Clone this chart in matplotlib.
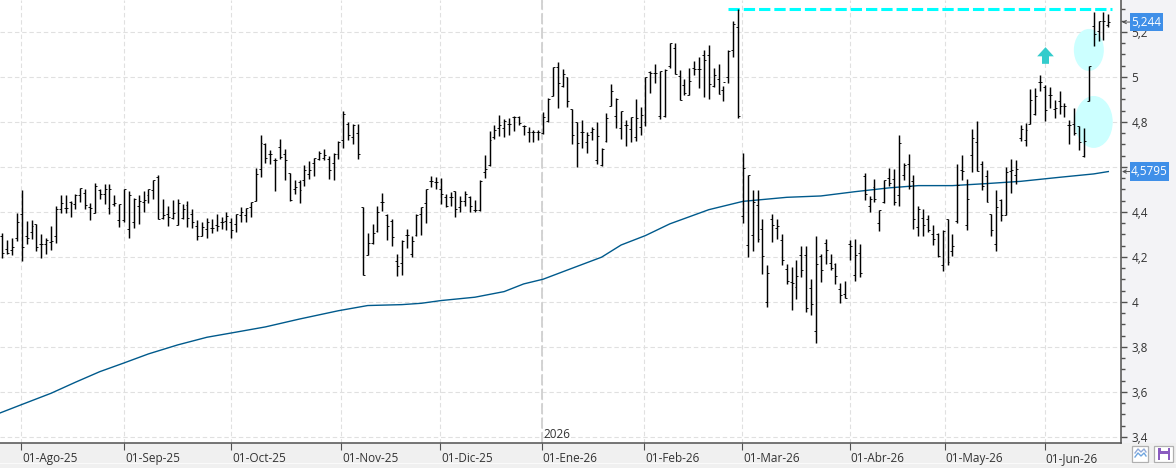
import matplotlib
matplotlib.use("Agg")
import matplotlib.pyplot as plt
from matplotlib.patches import Ellipse, Rectangle
from matplotlib.ticker import FixedLocator, FuncFormatter, MultipleLocator
from matplotlib.transforms import ScaledTranslation

plt.rcParams['font.family'] = ['Open Sans', 'DejaVu Sans']

# OHLC por sesion
highs = [4.308, 4.277, 4.286, 4.396, 4.496, 4.359, 4.363, 4.345, 4.304, 4.284, 4.336, 4.425, 4.474, 4.474, 4.447, 4.479, 4.508, 4.504, 4.44, 4.53,
         4.504, 4.526, 4.526, 4.474, 4.437, 4.504, 4.493, 4.464, 4.474, 4.492, 4.504, 4.544, 4.563, 4.459, 4.425, 4.455, 4.459, 4.434, 4.449, 4.415,
         4.366, 4.356, 4.375, 4.37, 4.393, 4.378, 4.4, 4.375, 4.39, 4.422, 4.419, 4.444, 4.596, 4.741, 4.708, 4.674, 4.641, 4.723, 4.681, 4.575,
         4.541, 4.541, 4.61, 4.625, 4.641, 4.67, 4.679, 4.649, 4.662, 4.714, 4.847, 4.8, 4.79, 4.79, 4.421, 4.307, 4.347, 4.425, 4.484, 4.391,
         4.369, 4.213, 4.277, 4.324, 4.295, 4.391, 4.421, 4.502, 4.561, 4.554, 4.55, 4.48, 4.49, 4.495, 4.47, 4.495, 4.473, 4.455, 4.542, 4.655,
         4.759, 4.787, 4.833, 4.813, 4.818, 4.825, 4.828, 4.787, 4.779, 4.764, 4.764, 4.846, 4.905, 5.046, 5.068, 5.036, 5.001, 4.858, 4.799, 4.809,
         4.757, 4.776, 4.801, 4.684, 4.84, 4.969, 4.905, 4.85, 4.809, 4.824, 4.902, 4.865, 5.001, 5.025, 5.058, 5.028, 5.036, 5.153, 5.153, 5.033,
         4.993, 5.041, 5.07, 5.089, 5.121, 5.141, 5.04, 5.056, 4.96, 5.121, 5.247, 5.304, 4.664, 4.566, 4.496, 4.496, 4.37, 4.163, 4.393, 4.37,
         4.304, 4.17, 4.156, 4.188, 4.247, 4.247, 4.104, 4.293, 4.215, 4.281, 4.215, 4.173, 4.086, 4.092, 4.274, 4.281, 4.256, 4.575, 4.47, 4.545,
         4.41, 4.544, 4.597, 4.59, 4.741, 4.619, 4.656, 4.563, 4.425, 4.415, 4.385, 4.344, 4.308, 4.319, 4.37, 4.304, 4.612, 4.652, 4.545, 4.767,
         4.803, 4.625, 4.585, 4.393, 4.499, 4.459, 4.6, 4.637, 4.633, 4.785, 4.797, 4.947, 4.951, 5.01, 4.964, 4.957, 4.898, 4.939, 4.884, 4.809,
         4.862, 4.784, 4.773, 5.047, 5.29, 5.25, 5.29, 5.28]
lows = [4.196, 4.212, 4.207, 4.271, 4.182, 4.256, 4.279, 4.227, 4.196, 4.212, 4.23, 4.262, 4.396, 4.396, 4.378, 4.412, 4.444, 4.412, 4.363, 4.396,
        4.456, 4.434, 4.39, 4.427, 4.333, 4.356, 4.284, 4.329, 4.348, 4.4, 4.44, 4.459, 4.37, 4.37, 4.338, 4.37, 4.344, 4.37, 4.333, 4.33,
        4.277, 4.292, 4.284, 4.308, 4.314, 4.323, 4.319, 4.284, 4.311, 4.356, 4.356, 4.378, 4.447, 4.556, 4.619, 4.612, 4.493, 4.634, 4.541, 4.449,
        4.479, 4.44, 4.516, 4.545, 4.559, 4.63, 4.63, 4.545, 4.541, 4.634, 4.684, 4.719, 4.701, 4.634, 4.12, 4.209, 4.258, 4.313, 4.406, 4.277,
        4.25, 4.114, 4.12, 4.239, 4.199, 4.295, 4.299, 4.351, 4.51, 4.502, 4.436, 4.421, 4.428, 4.376, 4.401, 4.428, 4.401, 4.401, 4.406, 4.551,
        4.606, 4.724, 4.739, 4.735, 4.744, 4.759, 4.787, 4.742, 4.71, 4.71, 4.721, 4.747, 4.801, 4.914, 4.861, 4.954, 4.868, 4.702, 4.599, 4.684,
        4.661, 4.72, 4.613, 4.603, 4.71, 4.87, 4.772, 4.724, 4.695, 4.713, 4.717, 4.744, 4.784, 4.927, 4.972, 4.813, 4.821, 5.04, 5.015, 4.899,
        4.921, 4.921, 5.007, 4.951, 4.911, 4.901, 4.956, 4.923, 4.893, 4.975, 5.089, 4.819, 4.351, 4.2, 4.225, 4.267, 4.126, 3.978, 4.267, 4.281,
        4.166, 4.081, 3.966, 4.012, 4.111, 3.956, 3.944, 3.818, 4.089, 4.167, 4.141, 4.079, 3.996, 4.018, 4.185, 4.093, 4.111, 4.452, 4.4, 4.444,
        4.316, 4.44, 4.514, 4.43, 4.427, 4.541, 4.504, 4.323, 4.293, 4.293, 4.311, 4.255, 4.2, 4.136, 4.166, 4.203, 4.351, 4.541, 4.319, 4.578,
        4.581, 4.499, 4.444, 4.293, 4.225, 4.358, 4.385, 4.484, 4.526, 4.716, 4.693, 4.791, 4.831, 4.936, 4.803, 4.861, 4.818, 4.836, 4.821, 4.702,
        4.744, 4.677, 4.643, 4.895, 5.139, 5.159, 5.166, 5.221]
opens = [4.293, 4.237, 4.23, 4.286, 4.393, 4.293, 4.313, 4.345, 4.256, 4.256, 4.267, 4.295, 4.415, 4.419, 4.444, 4.437, 4.474, 4.486, 4.422, 4.396,
         4.496, 4.479, 4.419, 4.437, 4.366, 4.363, 4.326, 4.356, 4.425, 4.444, 4.474, 4.499, 4.556, 4.375, 4.39, 4.373, 4.344, 4.373, 4.433, 4.39,
         4.336, 4.293, 4.326, 4.33, 4.341, 4.356, 4.36, 4.356, 4.348, 4.385, 4.385, 4.422, 4.447, 4.593, 4.701, 4.659, 4.633, 4.689, 4.659, 4.575,
         4.504, 4.533, 4.541, 4.57, 4.619, 4.637, 4.64, 4.637, 4.618, 4.659, 4.721, 4.793, 4.733, 4.753, 4.421, 4.209, 4.262, 4.317, 4.443, 4.387,
         4.361, 4.184, 4.173, 4.299, 4.213, 4.299, 4.391, 4.44, 4.536, 4.532, 4.502, 4.468, 4.465, 4.492, 4.421, 4.447, 4.465, 4.409, 4.41, 4.576,
         4.61, 4.735, 4.772, 4.772, 4.791, 4.821, 4.821, 4.781, 4.757, 4.754, 4.754, 4.75, 4.806, 4.917, 5.043, 4.961, 5.001, 4.858, 4.799, 4.757,
         4.71, 4.754, 4.631, 4.609, 4.717, 4.87, 4.828, 4.772, 4.787, 4.769, 4.732, 4.779, 4.801, 5.024, 5.018, 4.825, 4.828, 5.049, 5.13, 5.003,
         4.966, 4.921, 5.04, 5.034, 5.099, 5.099, 4.959, 4.993, 4.941, 5.0, 5.119, 5.222, 4.384, 4.255, 4.299, 4.43, 4.323, 4.001, 4.37, 4.33,
         4.277, 4.148, 4.089, 4.067, 4.21, 4.21, 4.064, 3.87, 4.203, 4.264, 4.175, 4.167, 4.059, 4.037, 4.259, 4.121, 4.218, 4.56, 4.427, 4.511,
         4.353, 4.444, 4.551, 4.548, 4.474, 4.563, 4.615, 4.536, 4.333, 4.375, 4.37, 4.304, 4.304, 4.163, 4.37, 4.225, 4.36, 4.588, 4.341, 4.652,
         4.711, 4.615, 4.56, 4.393, 4.259, 4.455, 4.388, 4.582, 4.563, 4.729, 4.721, 4.791, 4.836, 4.979, 4.957, 4.92, 4.858, 4.895, 4.87, 4.787,
         4.791, 4.78, 4.65, 4.895, 5.228, 5.203, 5.25, 5.233]
closes = [4.219, 4.218, 4.244, 4.356, 4.244, 4.284, 4.336, 4.244, 4.259, 4.277, 4.271, 4.415, 4.441, 4.419, 4.44, 4.474, 4.508, 4.433, 4.418, 4.514,
          4.481, 4.501, 4.504, 4.441, 4.437, 4.504, 4.477, 4.456, 4.447, 4.452, 4.501, 4.541, 4.37, 4.385, 4.378, 4.396, 4.44, 4.415, 4.375, 4.356,
          4.293, 4.333, 4.356, 4.33, 4.336, 4.356, 4.381, 4.321, 4.39, 4.4, 4.419, 4.444, 4.57, 4.708, 4.641, 4.659, 4.633, 4.644, 4.633, 4.452,
          4.511, 4.496, 4.585, 4.585, 4.641, 4.662, 4.652, 4.585, 4.659, 4.711, 4.834, 4.744, 4.785, 4.659, 4.12, 4.262, 4.307, 4.399, 4.443, 4.336,
          4.287, 4.161, 4.27, 4.299, 4.273, 4.388, 4.421, 4.502, 4.536, 4.532, 4.48, 4.428, 4.465, 4.413, 4.45, 4.48, 4.428, 4.409, 4.536, 4.591,
          4.721, 4.764, 4.787, 4.803, 4.791, 4.821, 4.796, 4.781, 4.754, 4.754, 4.754, 4.821, 4.902, 5.043, 4.972, 5.013, 4.892, 4.744, 4.707, 4.757,
          4.744, 4.769, 4.736, 4.68, 4.818, 4.939, 4.902, 4.85, 4.787, 4.821, 4.818, 4.833, 5.001, 5.018, 5.018, 5.025, 5.033, 5.153, 5.015, 4.899,
          4.93, 4.981, 5.034, 5.034, 5.074, 4.97, 5.01, 4.926, 4.978, 5.114, 5.237, 4.827, 4.597, 4.566, 4.444, 4.281, 4.203, 4.13, 4.344, 4.338,
          4.188, 4.092, 4.086, 4.114, 4.144, 3.975, 3.99, 4.17, 4.144, 4.23, 4.153, 4.114, 4.03, 4.019, 4.247, 4.21, 4.13, 4.481, 4.459, 4.459,
          4.407, 4.541, 4.529, 4.444, 4.708, 4.607, 4.516, 4.37, 4.415, 4.341, 4.319, 4.279, 4.204, 4.314, 4.178, 4.247, 4.521, 4.581, 4.459, 4.73,
          4.581, 4.516, 4.444, 4.321, 4.422, 4.388, 4.578, 4.585, 4.593, 4.767, 4.766, 4.899, 4.914, 4.979, 4.855, 4.92, 4.861, 4.87, 4.87, 4.787,
          4.751, 4.71, 4.717, 5.047, 5.191, 5.247, 5.247, 5.244]

ma_idx = [-1, 4, 10, 15, 20, 25, 30, 36, 42, 47, 54, 61, 69, 75, 82, 86, 90, 97, 103, 107, 111, 116, 123, 127, 132, 137, 145, 152, 161,
          168, 175, 182, 188, 195, 202, 209, 217, 224, 227]
ma_vals = [3.502, 3.544, 3.594, 3.643, 3.69, 3.729, 3.769, 3.809, 3.843, 3.862, 3.889, 3.924, 3.961, 3.984, 3.988, 3.994, 4.006, 4.021,
           4.046, 4.08, 4.101, 4.142, 4.199, 4.253, 4.295, 4.347, 4.41, 4.447, 4.465, 4.471, 4.49, 4.507, 4.517, 4.517, 4.526, 4.536, 4.554,
           4.569, 4.5795]

months = ["01-Ago-25", "01-Sep-25", "01-Oct-25", "01-Nov-25", "01-Dic-25", "01-Ene-26",
          "01-Feb-26", "01-Mar-26", "01-Abr-26", "01-May-26", "01-Jun-26"]
month_idx = [3.92, 25.04, 47.0, 69.5, 89.9, 110.7, 131.8, 151.8, 173.9, 193.4, 213.9]
year_start = 110.7
resistance = 5.30


# coma decimal; el 4,6 queda tapado por la etiqueta de la media
def comma(v, pos=None):
    if abs(v - 4.6) < 0.001:
        return ""
    return f"{v:.1f}".replace(".", ",").replace(",0", "")


fig = plt.figure(figsize=(11.76, 4.68), dpi=100, facecolor="#f0f0f0")
ax = fig.add_axes([0, 25 / 468, 1121 / 1176, 443 / 468])
ax.set_xlim(-0.472, 229.6)
ax.set_ylim(3.373, 5.342)

dark = "#505050"
for s in ["top", "left"]:
    ax.spines[s].set_visible(False)
for s in ["right", "bottom"]:
    ax.spines[s].set_color(dark)
    ax.spines[s].set_linewidth(1.1)

# eje de precios
ax.yaxis.tick_right()
ax.yaxis.set_major_locator(MultipleLocator(0.2))
ax.yaxis.set_minor_locator(MultipleLocator(0.05))
ax.yaxis.set_major_formatter(FuncFormatter(comma))
ax.tick_params(axis="y", which="major", length=4.5, width=1, color=dark, pad=3, labelsize=8.5, labelcolor="#333333")
ax.tick_params(axis="y", which="minor", length=3, width=1, color=dark)

# eje de fechas, etiqueta a la derecha de cada marca
ax.xaxis.set_major_locator(FixedLocator(month_idx))
ax.set_xticklabels(months, ha="left")
ax.tick_params(axis="x", length=5, width=0.8, color=dark, pad=1.5, labelsize=8.5, labelcolor="#333333")
offset = ScaledTranslation(1 / 100, 0, fig.dpi_scale_trans)
for lab in ax.get_xticklabels():
    lab.set_transform(lab.get_transform() + offset)

ax.grid(True, which="major", color="#e0e0e0", lw=0.8, ls=(0, (4, 2.5)))
ax.set_axisbelow(True)
ax.axvline(year_start, color="#d0d0d0", lw=1.3, ls=(0, (6, 2)), zorder=1)
ax.text(year_start + 0.3, 3.412, "2026", fontsize=8.5, color="#333333", va="center", ha="left")

# zonas marcadas y resistencia
ax.add_patch(Ellipse((223, 5.12), 6.16, 0.187, fc="#ccffff", ec="none", zorder=1.5))
ax.add_patch(Ellipse((224, 4.8), 7.8, 0.231, fc="#ccffff", ec="none", zorder=1.5))
ax.plot([149, 227.8], [resistance, resistance], color="#00ffff", lw=2.2, ls=(0, (3.7, 1.3)), zorder=2)

ax.plot(ma_idx, ma_vals, color="#005a8c", lw=1.0, zorder=2.5)

# barras OHLC
idx = list(range(len(highs)))
ax.vlines(idx, lows, highs, color="black", lw=1.05, zorder=3)
ax.hlines(opens, [i - 0.4 for i in idx], idx, color="black", lw=0.65, zorder=3)
ax.hlines(closes, idx, [i + 0.4 for i in idx], color="black", lw=0.65, zorder=3)

# flecha de compra
arrow = [(0, 1), (1, -0.1), (0.42, -0.1), (0.42, -1), (-0.42, -1), (-0.42, -0.1), (-1, -0.1)]
ax.plot([213.9], [5.098], marker=arrow, ms=12, color="#33cccc", mec="none", zorder=4, clip_on=False)

# etiquetas de ultimo valor, caja ajustada al texto
tr = ax.get_yaxis_transform()
for val, txt, w in [(closes[-1], "5,244", 33), (ma_vals[-1], "4,5795", 38.7)]:
    ax.add_patch(Rectangle((1130 / 1121, val - 0.042), w / 1121, 0.084, transform=tr, fc="#3f8fe8", ec="none", zorder=5, clip_on=False))
    ax.text((1130 + w / 2) / 1121, val, txt, transform=tr, color="white", fontsize=8.5, va="center", ha="center", zorder=6, clip_on=False)
    ax.annotate("", xy=(1122 / 1121, val), xycoords=tr, xytext=(1130 / 1121, val), textcoords=tr,
                arrowprops=dict(arrowstyle="->", lw=0.7, color=dark, shrinkA=0, shrinkB=0, mutation_scale=6))

# marco de la ventana y botones, en pixeles, por debajo del grafico
ui = fig.add_axes([0, 0, 1, 1], facecolor="none")
ui.set_zorder(-1)
ui.set_xlim(0, 1176)
ui.set_ylim(468, 0)
ui.axis("off")
ui.add_patch(Rectangle((1122, 0), 54, 443, fc="#f3f3f6", ec="none", zorder=0))
ui.add_patch(Rectangle((0, 463), 1176, 1.2, fc="#fafafa", ec="none"))
ui.add_patch(Rectangle((1132, 446), 16, 16, fc="white", ec="#b0b0b0", lw=0.9))
ui.plot([1135, 1138, 1141, 1144, 1146], [453, 449, 452, 449, 452], color="#8fa9d8", lw=1)
ui.plot([1135, 1138, 1141, 1144, 1146], [457, 453, 456, 453, 456], color="#6fa6e0", lw=1)
ui.add_patch(Rectangle((1153.5, 446), 19.5, 16, fc="white", ec="#b0b0b0", lw=0.9))
ui.add_patch(Rectangle((1158, 447.5), 12, 12, fc="#8a5bc0", ec="none"))
ui.add_patch(Rectangle((1160.5, 447.5), 7, 3.5, fc="white", ec="none"))
ui.add_patch(Rectangle((1160, 454), 8, 5.5, fc="white", ec="none"))

fig.savefig("out.png", dpi=100, facecolor=fig.get_facecolor())
